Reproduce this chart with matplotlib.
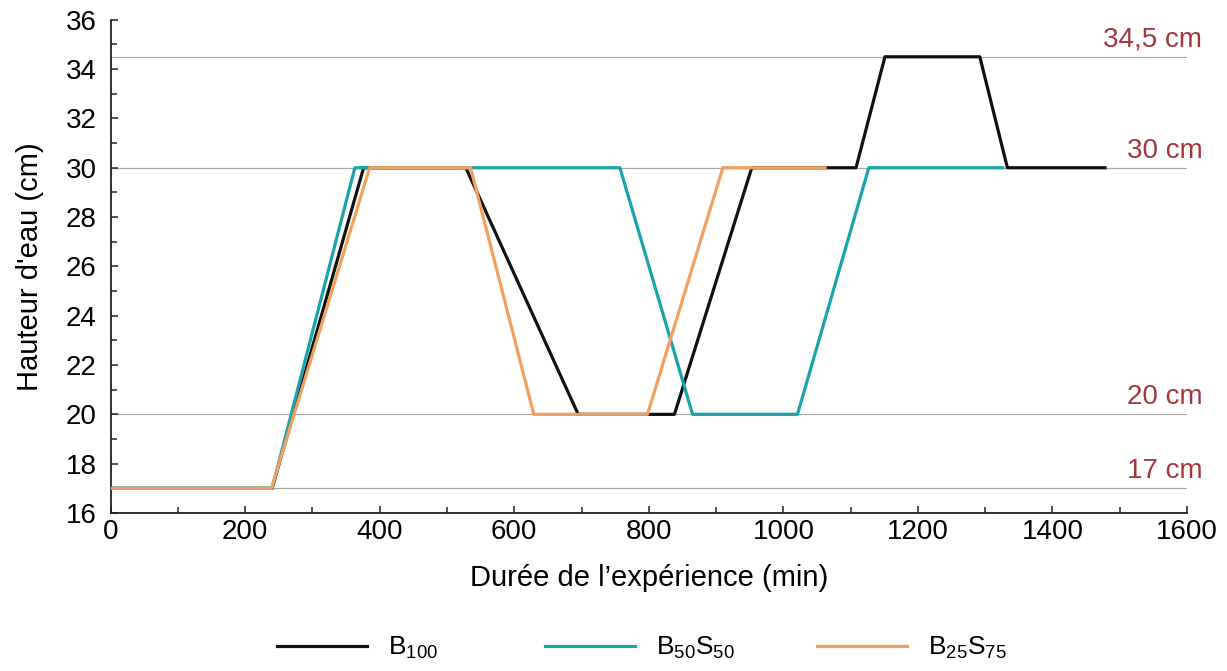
import matplotlib
matplotlib.use("Agg")
import matplotlib.pyplot as plt
from matplotlib.ticker import MultipleLocator
import matplotlib.transforms as mtransforms

plt.rcParams['font.family'] = ['Liberation Sans', 'DejaVu Sans']
plt.rcParams['mathtext.fontset'] = 'custom'
plt.rcParams['mathtext.rm'] = 'Liberation Sans'
plt.rcParams['mathtext.it'] = 'Liberation Sans'
plt.rcParams['mathtext.default'] = 'rm'

# Data
b100_x = [0, 240, 376, 528, 695, 838, 953, 1108, 1151, 1292, 1333, 1478]
b100_y = [17, 17, 30, 30, 20, 20, 30, 30, 34.5, 34.5, 30, 30]
b50s50_x = [0, 240, 363, 757, 865, 1021, 1127, 1326]
b50s50_y = [17, 17, 30, 30, 20, 20, 30, 30]
b25s75_x = [0, 239, 385, 535, 629, 798, 910, 1062]
b25s75_y = [17, 17, 30, 30, 20, 20, 30, 30]
ref_levels = [17, 20, 30, 34.5]
ref_labels = ["17 cm", "20 cm", "30 cm", "34,5 cm"]
series_labels = [r"B$_{100}$", r"B$_{50}$S$_{50}$", r"B$_{25}$S$_{75}$"]

fig = plt.figure(figsize=(12.27, 6.71), dpi=100)
ax = fig.add_axes([0.0902, 0.2355, 0.8772, 0.735])

for lv in ref_levels:
    ax.axhline(lv, color='#a8a8a8', lw=0.9, zorder=1)

lw = 2.3
lines = []
lines += ax.plot(b100_x, b100_y, color='#111111', lw=lw, label=series_labels[0], zorder=3)
lines += ax.plot(b50s50_x, b50s50_y, color='#1aa3a9', lw=lw, label=series_labels[1], zorder=4)
lines += ax.plot(b25s75_x, b25s75_y, color='#f0a060', lw=lw, label=series_labels[2], zorder=5)

trans = mtransforms.blended_transform_factory(ax.transAxes, ax.transData)
for lv, lab in zip(ref_levels, ref_labels):
    ax.annotate(lab, xy=(1, lv), xycoords=trans, xytext=(11, 3),
                textcoords='offset points', ha='right', va='bottom',
                color='#a2373c', fontsize=20, annotation_clip=False)

ax.set_xlim(0, 1600)
ax.set_ylim(16, 36)
ax.xaxis.set_major_locator(MultipleLocator(200))
ax.xaxis.set_minor_locator(MultipleLocator(100))
ax.yaxis.set_major_locator(MultipleLocator(2))
ax.yaxis.set_minor_locator(MultipleLocator(1))
ax.tick_params(which='both', direction='in', width=1.1, color='#222222')
ax.tick_params(which='major', length=5, labelsize=20)
ax.tick_params(axis='x', which='major', pad=4)
ax.tick_params(axis='y', which='major', pad=10)
ax.tick_params(which='minor', length=4)
for s in ['top', 'right']:
    ax.spines[s].set_visible(False)
for s in ['left', 'bottom']:
    ax.spines[s].set_linewidth(1.3)
    ax.spines[s].set_color('#222222')

ax.set_xlabel("Durée de l’expérience (min)", fontsize=21, labelpad=14)
ax.set_ylabel("Hauteur d'eau (cm)", fontsize=21, labelpad=16)

# legend entries evenly pitched, as in the reference
legend_x = [0.2258, 0.4442, 0.6659]
for ln, lx in zip(lines, legend_x):
    fig.legend([ln], [ln.get_label()], loc='center left', bbox_to_anchor=(lx, 0.034),
               frameon=False, fontsize=19, handlelength=3.4, handletextpad=0.8,
               borderpad=0, borderaxespad=0)

fig.savefig("out.png", dpi=100)
